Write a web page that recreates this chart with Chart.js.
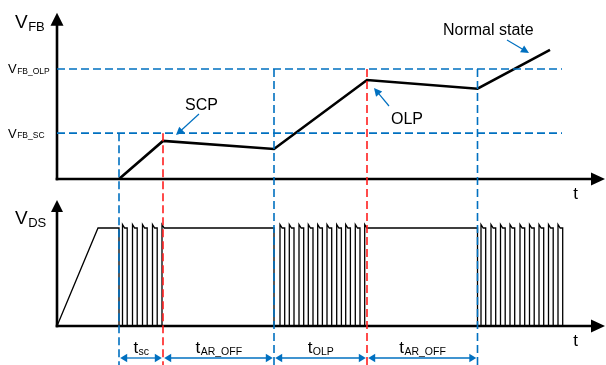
<!DOCTYPE html>
<html><head><meta charset="utf-8">
<script src="https://cdn.jsdelivr.net/npm/chart.js@4/dist/chart.umd.min.js"></script>
<style>html,body{margin:0;padding:0;background:#fff;overflow:hidden}canvas{display:block}</style>
</head><body>
<canvas id="c" width="606" height="365"></canvas>
<script>
// ===== DATA (time t in arbitrary units from the origin; VFB in V; VDS in V) =====
const levelNames  = ['OLP', 'SC'];
const levelValues = [4.8, 2.0];          // VFB_OLP, VFB_SC
const levelEndTime = 505;                // dashed reference lines end

const vfbTimes  = [62, 106, 217, 310, 420.5, 493];
const vfbValues = [0, 1.66, 1.31, 4.32, 3.94, 5.63];

const boundaryTimes  = [62, 106, 217, 310, 420.5];
const boundaryLevels = [2.0, 2.0, 4.8, 4.8, 4.8];
const boundaryKinds  = ['restart', 'trip', 'restart', 'trip', 'restart'];

const intervalSubs = ['sc', 'AR_OFF', 'OLP', 'AR_OFF'];   // t_sc, t_AR_OFF, t_OLP, t_AR_OFF

const vdsHigh = 400;
const vdsSpike = 414;
const vdsRampEnd = 41;
const pulseWidth = 4.7;
const scPulseRises     = [65.5, 75.5, 85.5, 95.5];
const scFinalRise      = 105;
const olpPulseRises    = [223, 232.3, 242, 251.3, 260.7, 270, 279.7, 288.7, 298.3];
const olpFinalRise     = 307.7;
const normalPulseRises = [424, 434, 443.5, 453, 463, 472.5, 482, 491.5, 501];

// ===== LAYOUT =====
const W = 606, H = 365;
const xOriginPx = 57, xPxPerUnit = 1;
const topZeroPx = 179, topPxPerUnit = 22.92;
const botZeroPx = 326, botPxPerUnit = 0.245;
const xAxisEnd = 548;          // t at arrow tip
const topAxisEnd = 7.25;       // VFB at arrow tip
const botAxisEnd = 514;        // VDS at arrow tip
const BLUE = '#0070C0', RED = '#FF1F1F';
const FONT = "'Liberation Sans', Arial, sans-serif";

// ===== build tables =====
const topMin = -(H - topZeroPx) / topPxPerUnit;
const botMin = -(H - botZeroPx) / botPxPerUnit;

const vfbPts = vfbTimes.map((t, i) => ({x: t, y: vfbValues[i]}));

function pulse(pts, r, final, endHigh) {
  pts.push({x: r, y: 0}, {x: r, y: vdsSpike}, {x: r + 2.2, y: vdsHigh});
  if (final) { pts.push({x: endHigh, y: vdsHigh}, {x: endHigh, y: 0}); }
  else { pts.push({x: r + pulseWidth, y: vdsHigh}, {x: r + pulseWidth, y: 0}); }
}
const vdsPts = [{x: 0, y: 0}, {x: vdsRampEnd, y: vdsHigh}, {x: boundaryTimes[0], y: vdsHigh}, {x: boundaryTimes[0], y: 0}];
scPulseRises.forEach(r => pulse(vdsPts, r, false));
pulse(vdsPts, scFinalRise, true, boundaryTimes[2]);
olpPulseRises.forEach(r => pulse(vdsPts, r, false));
pulse(vdsPts, olpFinalRise, true, boundaryTimes[4]);
normalPulseRises.forEach(r => pulse(vdsPts, r, false));

const dash = [8, 4];
const datasets = [];
levelValues.forEach(v => datasets.push({
  data: [{x: 0, y: v}, {x: levelEndTime, y: v}], yAxisID: 'yTop',
  borderColor: BLUE, borderWidth: 1.6, borderDash: dash
}));
boundaryTimes.forEach((t, i) => datasets.push({
  data: [{x: t, y: boundaryLevels[i]}, {x: t, y: topMin}], yAxisID: 'yTop',
  borderColor: boundaryKinds[i] === 'trip' ? RED : BLUE, borderWidth: 1.6, borderDash: dash
}));
datasets.push({data: vfbPts, yAxisID: 'yTop', borderColor: '#000', borderWidth: 2.6, borderJoinStyle: 'miter'});
datasets.push({data: vdsPts, yAxisID: 'yBot', borderColor: '#000', borderWidth: 1.3, borderJoinStyle: 'miter'});
datasets.forEach(d => { d.showLine = true; d.pointRadius = 0; d.fill = false; d.tension = 0; d.xAxisID = 'x'; });

// ===== drawing helpers =====
function head(ctx, tx, ty, dx, dy, len, hw, color) {
  const L = Math.hypot(dx, dy); dx /= L; dy /= L;
  const bx = tx - dx * len, by = ty - dy * len;
  ctx.beginPath();
  ctx.moveTo(tx, ty);
  ctx.lineTo(bx - dy * hw, by + dx * hw);
  ctx.lineTo(bx + dy * hw, by - dx * hw);
  ctx.closePath();
  ctx.fillStyle = color; ctx.fill();
}
function arrow(ctx, x0, y0, x1, y1, color, w, len, hw) {
  const dx = x1 - x0, dy = y1 - y0, L = Math.hypot(dx, dy);
  ctx.beginPath(); ctx.moveTo(x0, y0);
  ctx.lineTo(x1 - dx / L * len * 0.8, y1 - dy / L * len * 0.8);
  ctx.strokeStyle = color; ctx.lineWidth = w; ctx.stroke();
  head(ctx, x1, y1, dx, dy, len, hw, color);
}
function subText(ctx, x, y, main, sub, mainSize, subSize, subDrop, align) {
  ctx.font = mainSize + 'px ' + FONT;
  const mw = ctx.measureText(main).width;
  ctx.font = subSize + 'px ' + FONT;
  const sw = ctx.measureText(sub).width;
  let left = x;
  if (align === 'center') left = x - (mw + sw) / 2;
  ctx.fillStyle = '#000'; ctx.textAlign = 'left'; ctx.textBaseline = 'alphabetic';
  ctx.font = mainSize + 'px ' + FONT; ctx.fillText(main, left, y);
  ctx.font = subSize + 'px ' + FONT; ctx.fillText(sub, left + mw + 0.5, y + subDrop);
}

const bgPlugin = {id: 'bg', beforeDraw(c) { const ctx = c.ctx; ctx.save(); ctx.fillStyle = '#fff'; ctx.fillRect(0, 0, c.width, c.height); ctx.restore(); }};

const axesPlugin = {id: 'axes', beforeDatasetsDraw(c) {
  const ctx = c.ctx, xs = c.scales.x, yt = c.scales.yTop, yb = c.scales.yBot;
  ctx.save();
  ctx.strokeStyle = '#000'; ctx.lineWidth = 2.6; ctx.lineCap = 'butt';
  const x0 = xs.getPixelForValue(0), xe = xs.getPixelForValue(xAxisEnd);
  [[yt, topAxisEnd, 13, 6.5], [yb, botAxisEnd, 12, 6]].forEach(([ys, yEnd, len, hw]) => {
    const y0 = ys.getPixelForValue(0), ye = ys.getPixelForValue(yEnd);
    ctx.beginPath(); ctx.moveTo(x0, y0 + 1.3); ctx.lineTo(x0, ye + len - 1); ctx.stroke();
    head(ctx, x0, ye, 0, -1, len, hw, '#000');
    ctx.beginPath(); ctx.moveTo(x0 - 1.3, y0); ctx.lineTo(xe - 13, y0); ctx.stroke();
    head(ctx, xe, y0, 1, 0, 14, 6.5, '#000');
  });
  ctx.restore();
}};

const textPlugin = {id: 'txt', afterDatasetsDraw(c) {
  const ctx = c.ctx, xs = c.scales.x, yt = c.scales.yTop, yb = c.scales.yBot;
  ctx.save();
  // axis titles
  subText(ctx, 15, 28, 'V', 'FB', 19, 13, 2.5, 'left');
  subText(ctx, 15, 224, 'V', 'DS', 19, 13, 2.5, 'left');
  levelValues.forEach((v, i) => {
    subText(ctx, 8, yt.getPixelForValue(v) + 4.5, 'V', 'FB_' + levelNames[i], 13, 8.5, 0.5, 'left');
  });
  ctx.font = '17px ' + FONT; ctx.textAlign = 'center'; ctx.fillStyle = '#000';
  const tx = xs.getPixelForValue(xAxisEnd) - 29.5;
  ctx.fillText('t', tx, yt.getPixelForValue(0) + 19.5);
  ctx.fillText('t', tx, yb.getPixelForValue(0) + 20);
  // interval dimension arrows
  const dimY = 358;
  for (let i = 0; i < intervalSubs.length; i++) {
    const a = xs.getPixelForValue(boundaryTimes[i]) + 1.2, b = xs.getPixelForValue(boundaryTimes[i + 1]) - 1.2;
    ctx.beginPath(); ctx.moveTo(a + 5, dimY); ctx.lineTo(b - 5, dimY);
    ctx.strokeStyle = BLUE; ctx.lineWidth = 1.3; ctx.stroke();
    head(ctx, a, dimY, -1, 0, 7, 4.2, BLUE);
    head(ctx, b, dimY, 1, 0, 7, 4.2, BLUE);
    subText(ctx, (a + b) / 2, 353, 't', intervalSubs[i], 17, 10.5, 1.5, 'center');
  }
  // annotations
  ctx.font = '16px ' + FONT; ctx.textAlign = 'left'; ctx.fillStyle = '#000';
  ctx.fillText('SCP', 185, 110);
  ctx.fillText('OLP', 391, 124);
  ctx.fillText('Normal state', 443, 35);
  arrow(ctx, 199, 114, 176, 135, BLUE, 1.2, 8, 4);
  arrow(ctx, 389, 106, 374, 88, BLUE, 1.2, 8, 4);
  arrow(ctx, 507, 40, 529, 53, BLUE, 1.2, 8, 4);
  ctx.restore();
}};

new Chart(document.getElementById('c'), {
  type: 'scatter',
  data: {datasets},
  options: {
    responsive: false, animation: false, events: [],
    layout: {padding: 0},
    plugins: {legend: {display: false}, tooltip: {enabled: false}},
    scales: {
      x:    {type: 'linear', display: false, min: -xOriginPx / xPxPerUnit, max: (W - xOriginPx) / xPxPerUnit},
      yTop: {type: 'linear', display: false, min: topMin, max: topZeroPx / topPxPerUnit},
      yBot: {type: 'linear', display: false, min: botMin, max: botZeroPx / botPxPerUnit}
    }
  },
  plugins: [bgPlugin, axesPlugin, textPlugin]
});
</script>
</body></html>
